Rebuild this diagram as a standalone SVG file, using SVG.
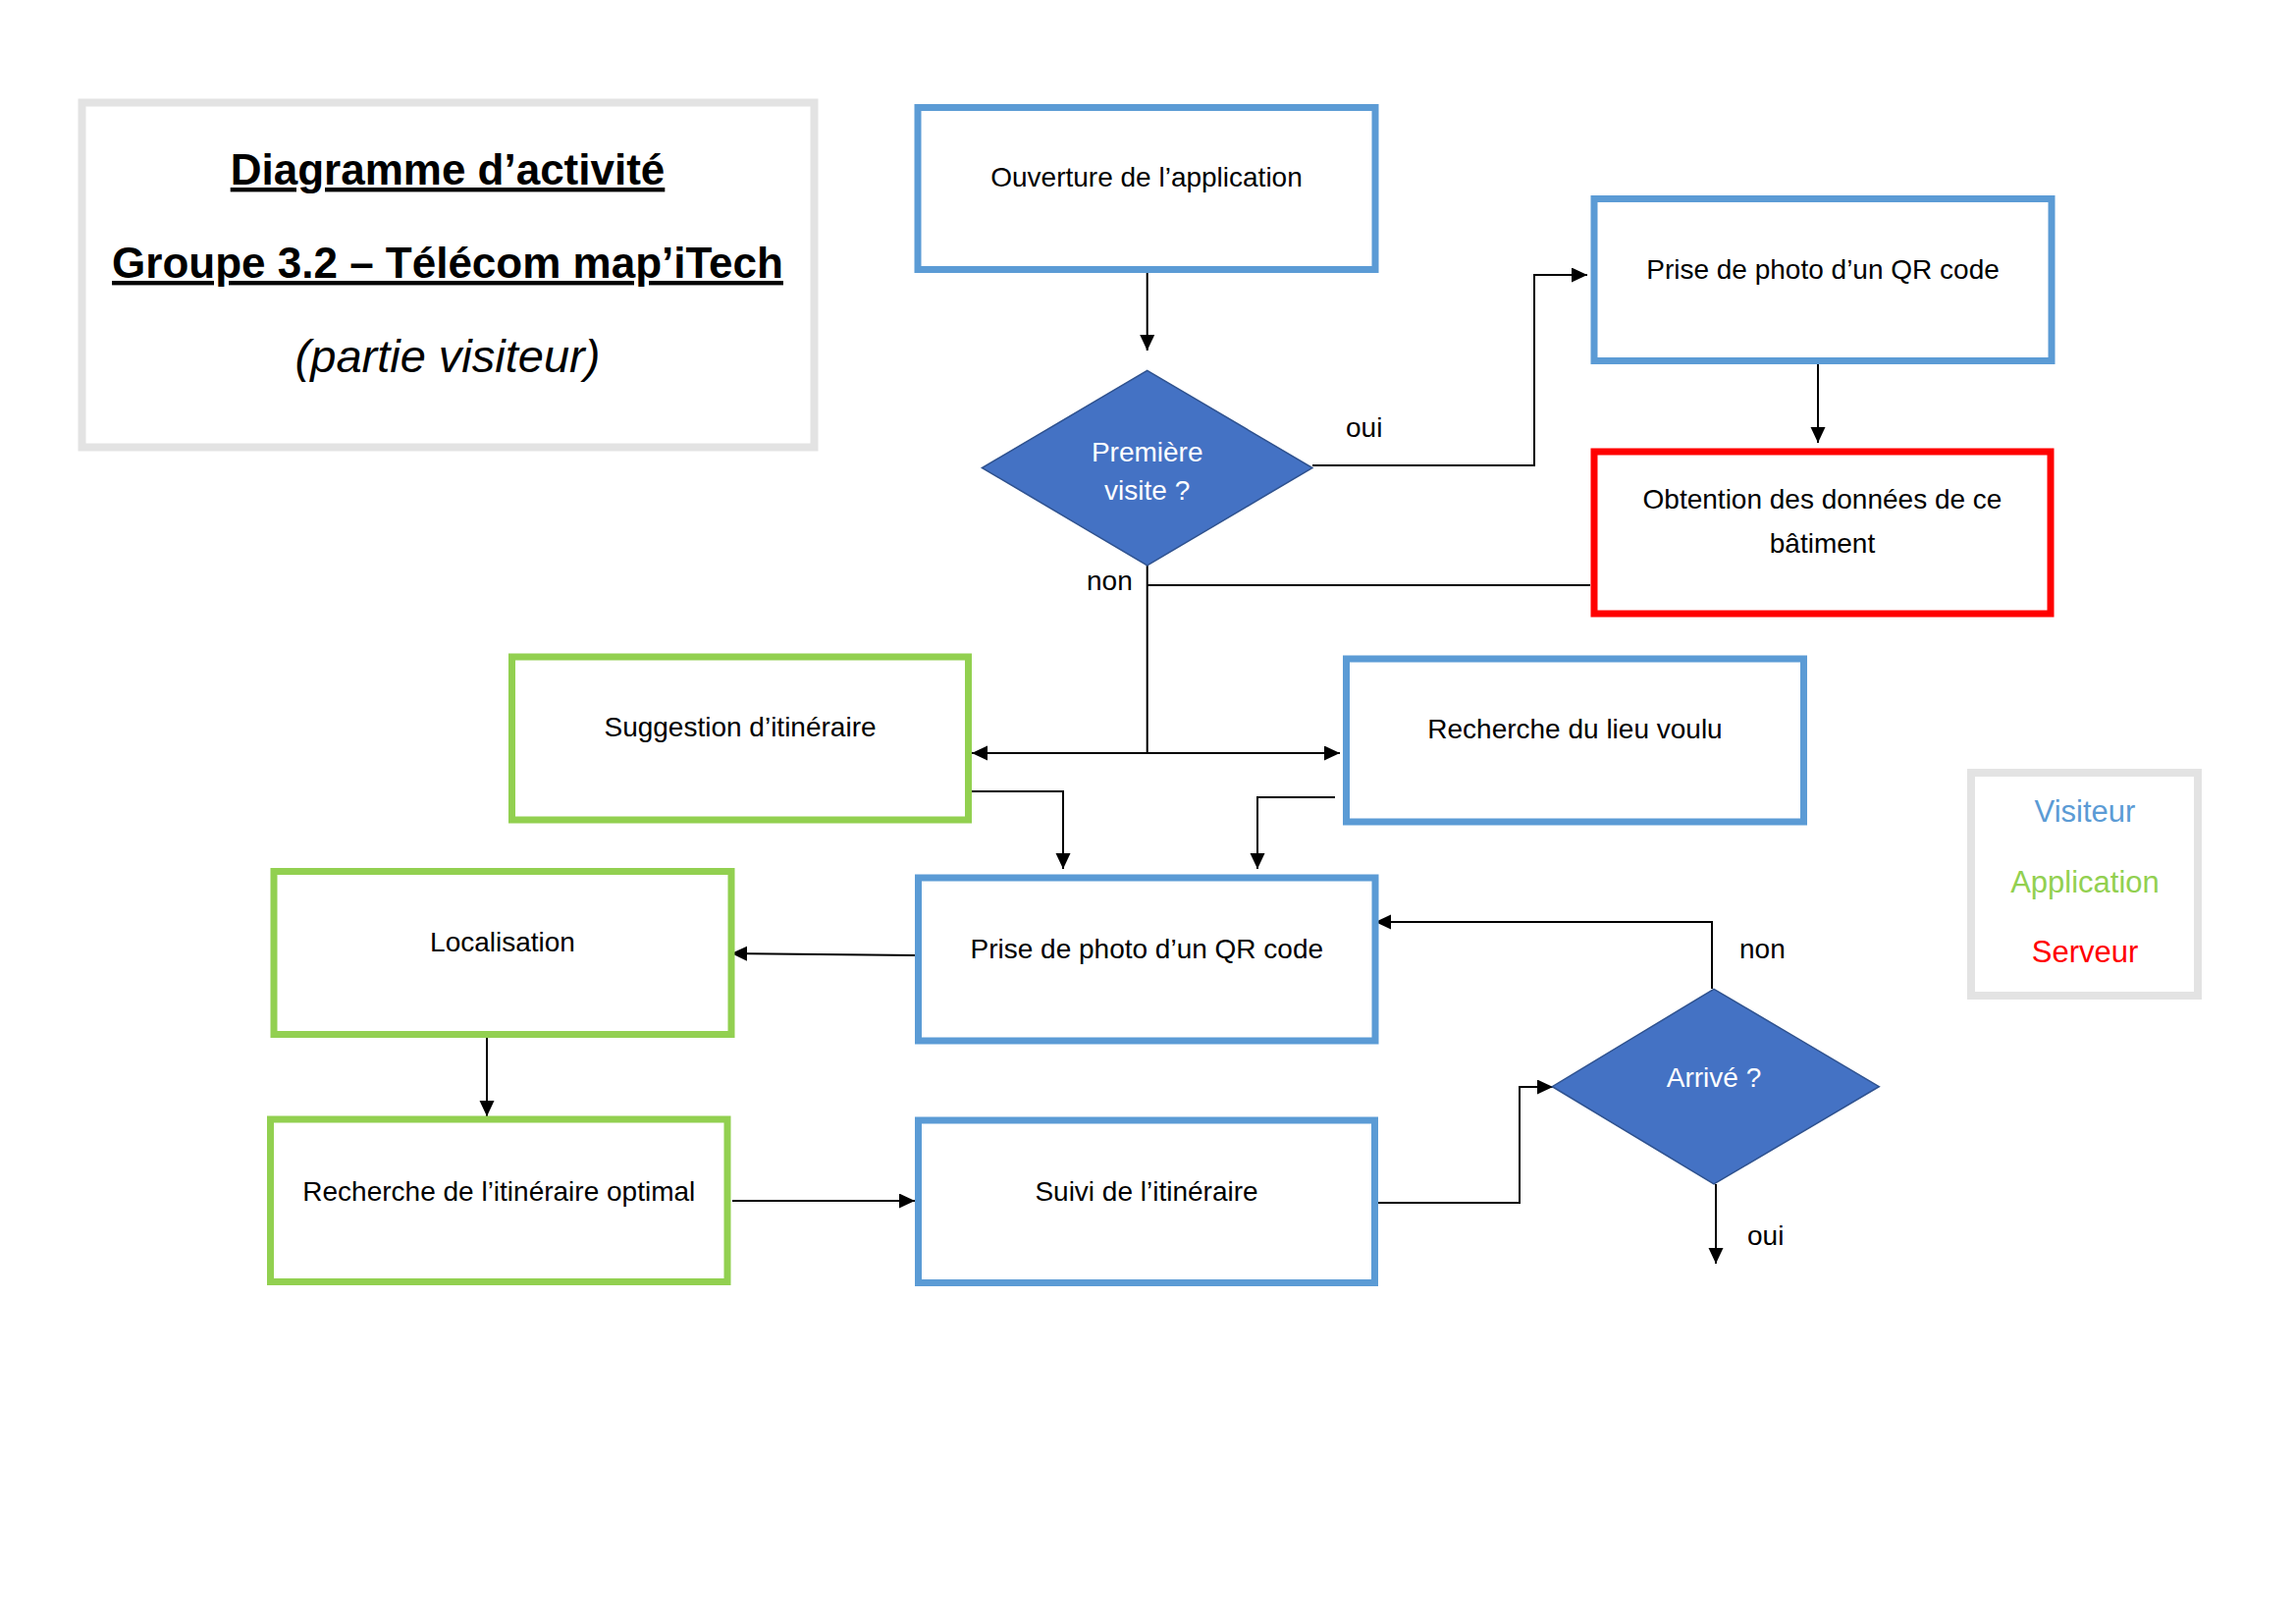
<svg xmlns="http://www.w3.org/2000/svg" width="2339" height="1654" viewBox="0 0 2339 1654">
  <style>
    .bg { fill: #ffffff; }
    .frame { fill: #ffffff; stroke: #e3e3e3; stroke-width: 8; }
    .visitor { fill: #ffffff; stroke: #5b9bd5; stroke-width: 7; }
    .app { fill: #ffffff; stroke: #92d050; stroke-width: 7; }
    .server { fill: #ffffff; stroke: #ff0000; stroke-width: 7; }
    .decision { fill: #4472c4; stroke: #2f528f; stroke-width: 1.5; }
    .label { font-family: "Liberation Sans", Arial, sans-serif; font-size: 28px; fill: #000000; text-anchor: middle; }
    .dlabel { font-family: "Liberation Sans", Arial, sans-serif; font-size: 28px; fill: #ffffff; text-anchor: middle; }
    .edge-label { font-family: "Liberation Sans", Arial, sans-serif; font-size: 28px; fill: #000000; }
    .title { font-family: "Liberation Sans", Arial, sans-serif; font-size: 44px; font-weight: bold; fill: #000000; text-anchor: middle; text-decoration: underline; }
    .subtitle { font-family: "Liberation Sans", Arial, sans-serif; font-size: 47px; font-style: italic; fill: #000000; text-anchor: middle; }
    .legend { font-family: "Liberation Sans", Arial, sans-serif; font-size: 31px; text-anchor: middle; }
    .edge { fill: none; stroke: #000000; stroke-width: 2; }
  </style>
  <defs>
    <marker id="arrow" markerUnits="userSpaceOnUse" markerWidth="16" markerHeight="16" refX="16" refY="7.5" orient="auto-start-reverse">
      <path d="M0,0 L16,7.5 L0,15 z" fill="#000000"/>
    </marker>
  </defs>

  <rect class="bg" x="0" y="0" width="2339" height="1654"/>

  <!-- Title block -->
  <g id="title">
    <rect class="frame" x="83.5" y="104.5" width="746" height="351"/>
    <text class="title" x="456" y="188">Diagramme d’activité</text>
    <text class="title" x="456" y="283">Groupe 3.2 – Télécom map’iTech</text>
    <text class="subtitle" x="456" y="379">(partie visiteur)</text>
  </g>

  <!-- Legend -->
  <g id="legend">
    <rect class="frame" x="2008" y="787" width="231" height="227"/>
    <text class="legend" x="2124" y="837" fill="#5b9bd5">Visiteur</text>
    <text class="legend" x="2124" y="909" fill="#92d050">Application</text>
    <text class="legend" x="2124" y="980" fill="#ff0000">Serveur</text>
  </g>

  <!-- Connectors -->
  <g id="connectors">
    <path class="edge" d="M1168.7,277 L1168.7,357" marker-end="url(#arrow)"/>
    <path class="edge" d="M1337,474 L1563,474 L1563,280 L1617,280" marker-end="url(#arrow)"/>
    <path class="edge" d="M1852,370.5 L1852,451" marker-end="url(#arrow)"/>
    <path class="edge" d="M1620,596 L1168.7,596"/>
    <path class="edge" d="M1168.7,576 L1168.7,767"/>
    <path class="edge" d="M990,767 L1365,767" marker-start="url(#arrow)" marker-end="url(#arrow)"/>
    <path class="edge" d="M990,806 L1083,806 L1083,885" marker-end="url(#arrow)"/>
    <path class="edge" d="M1360,812 L1281,812 L1281,885" marker-end="url(#arrow)"/>
    <path class="edge" d="M932,973 L745,971" marker-end="url(#arrow)"/>
    <path class="edge" d="M496,1057 L496,1137" marker-end="url(#arrow)"/>
    <path class="edge" d="M746,1223 L932,1223" marker-end="url(#arrow)"/>
    <path class="edge" d="M1402,1225 L1548,1225 L1548,1107 L1582,1107" marker-end="url(#arrow)"/>
    <path class="edge" d="M1744,1007 L1744,939 L1401,939" marker-end="url(#arrow)"/>
    <path class="edge" d="M1748,1206 L1748,1287" marker-end="url(#arrow)"/>
    <text class="edge-label" x="1371" y="445">oui</text>
    <text class="edge-label" x="1107" y="601">non</text>
    <text class="edge-label" x="1772" y="976">non</text>
    <text class="edge-label" x="1780" y="1268">oui</text>
  </g>

  <!-- Nodes -->
  <g id="ouverture">
    <rect class="visitor" x="935" y="109.5" width="466" height="165"/>
    <text class="label" x="1168" y="189.5">Ouverture de l’application</text>
  </g>
  <g id="premiere-visite">
    <polygon class="decision" points="1168.7,377.3 1337,476.5 1168.7,575.8 1000.4,476.5"/>
    <text class="dlabel" x="1168.7" y="469.5">Première</text>
    <text class="dlabel" x="1168.7" y="509">visite ?</text>
  </g>
  <g id="photo-qr-1">
    <rect class="visitor" x="1624" y="202.5" width="466" height="165"/>
    <text class="label" x="1857" y="283.5">Prise de photo d’un QR code</text>
  </g>
  <g id="obtention">
    <rect class="server" x="1624" y="460" width="465" height="165"/>
    <text class="label" x="1856.5" y="518">Obtention des données de ce</text>
    <text class="label" x="1856.5" y="563">bâtiment</text>
  </g>
  <g id="suggestion">
    <rect class="app" x="521.5" y="669" width="465" height="166"/>
    <text class="label" x="754" y="749.5">Suggestion d’itinéraire</text>
  </g>
  <g id="recherche-lieu">
    <rect class="visitor" x="1371.5" y="671" width="466" height="166"/>
    <text class="label" x="1604.5" y="751.5">Recherche du lieu voulu</text>
  </g>
  <g id="photo-qr-2">
    <rect class="visitor" x="935.5" y="894" width="465.5" height="166"/>
    <text class="label" x="1168.3" y="976">Prise de photo d’un QR code</text>
  </g>
  <g id="localisation">
    <rect class="app" x="279" y="887.5" width="466" height="166"/>
    <text class="label" x="512" y="969">Localisation</text>
  </g>
  <g id="recherche-optimal">
    <rect class="app" x="275.5" y="1140" width="465.5" height="165.5"/>
    <text class="label" x="508.3" y="1222.5">Recherche de l’itinéraire optimal</text>
  </g>
  <g id="suivi">
    <rect class="visitor" x="935.5" y="1141" width="465" height="165.5"/>
    <text class="label" x="1168" y="1222.5">Suivi de l’itinéraire</text>
  </g>
  <g id="arrive">
    <polygon class="decision" points="1746,1007.3 1914.3,1106.7 1746,1206 1581.3,1106.7"/>
    <text class="dlabel" x="1746" y="1106.5">Arrivé ?</text>
  </g>
</svg>
